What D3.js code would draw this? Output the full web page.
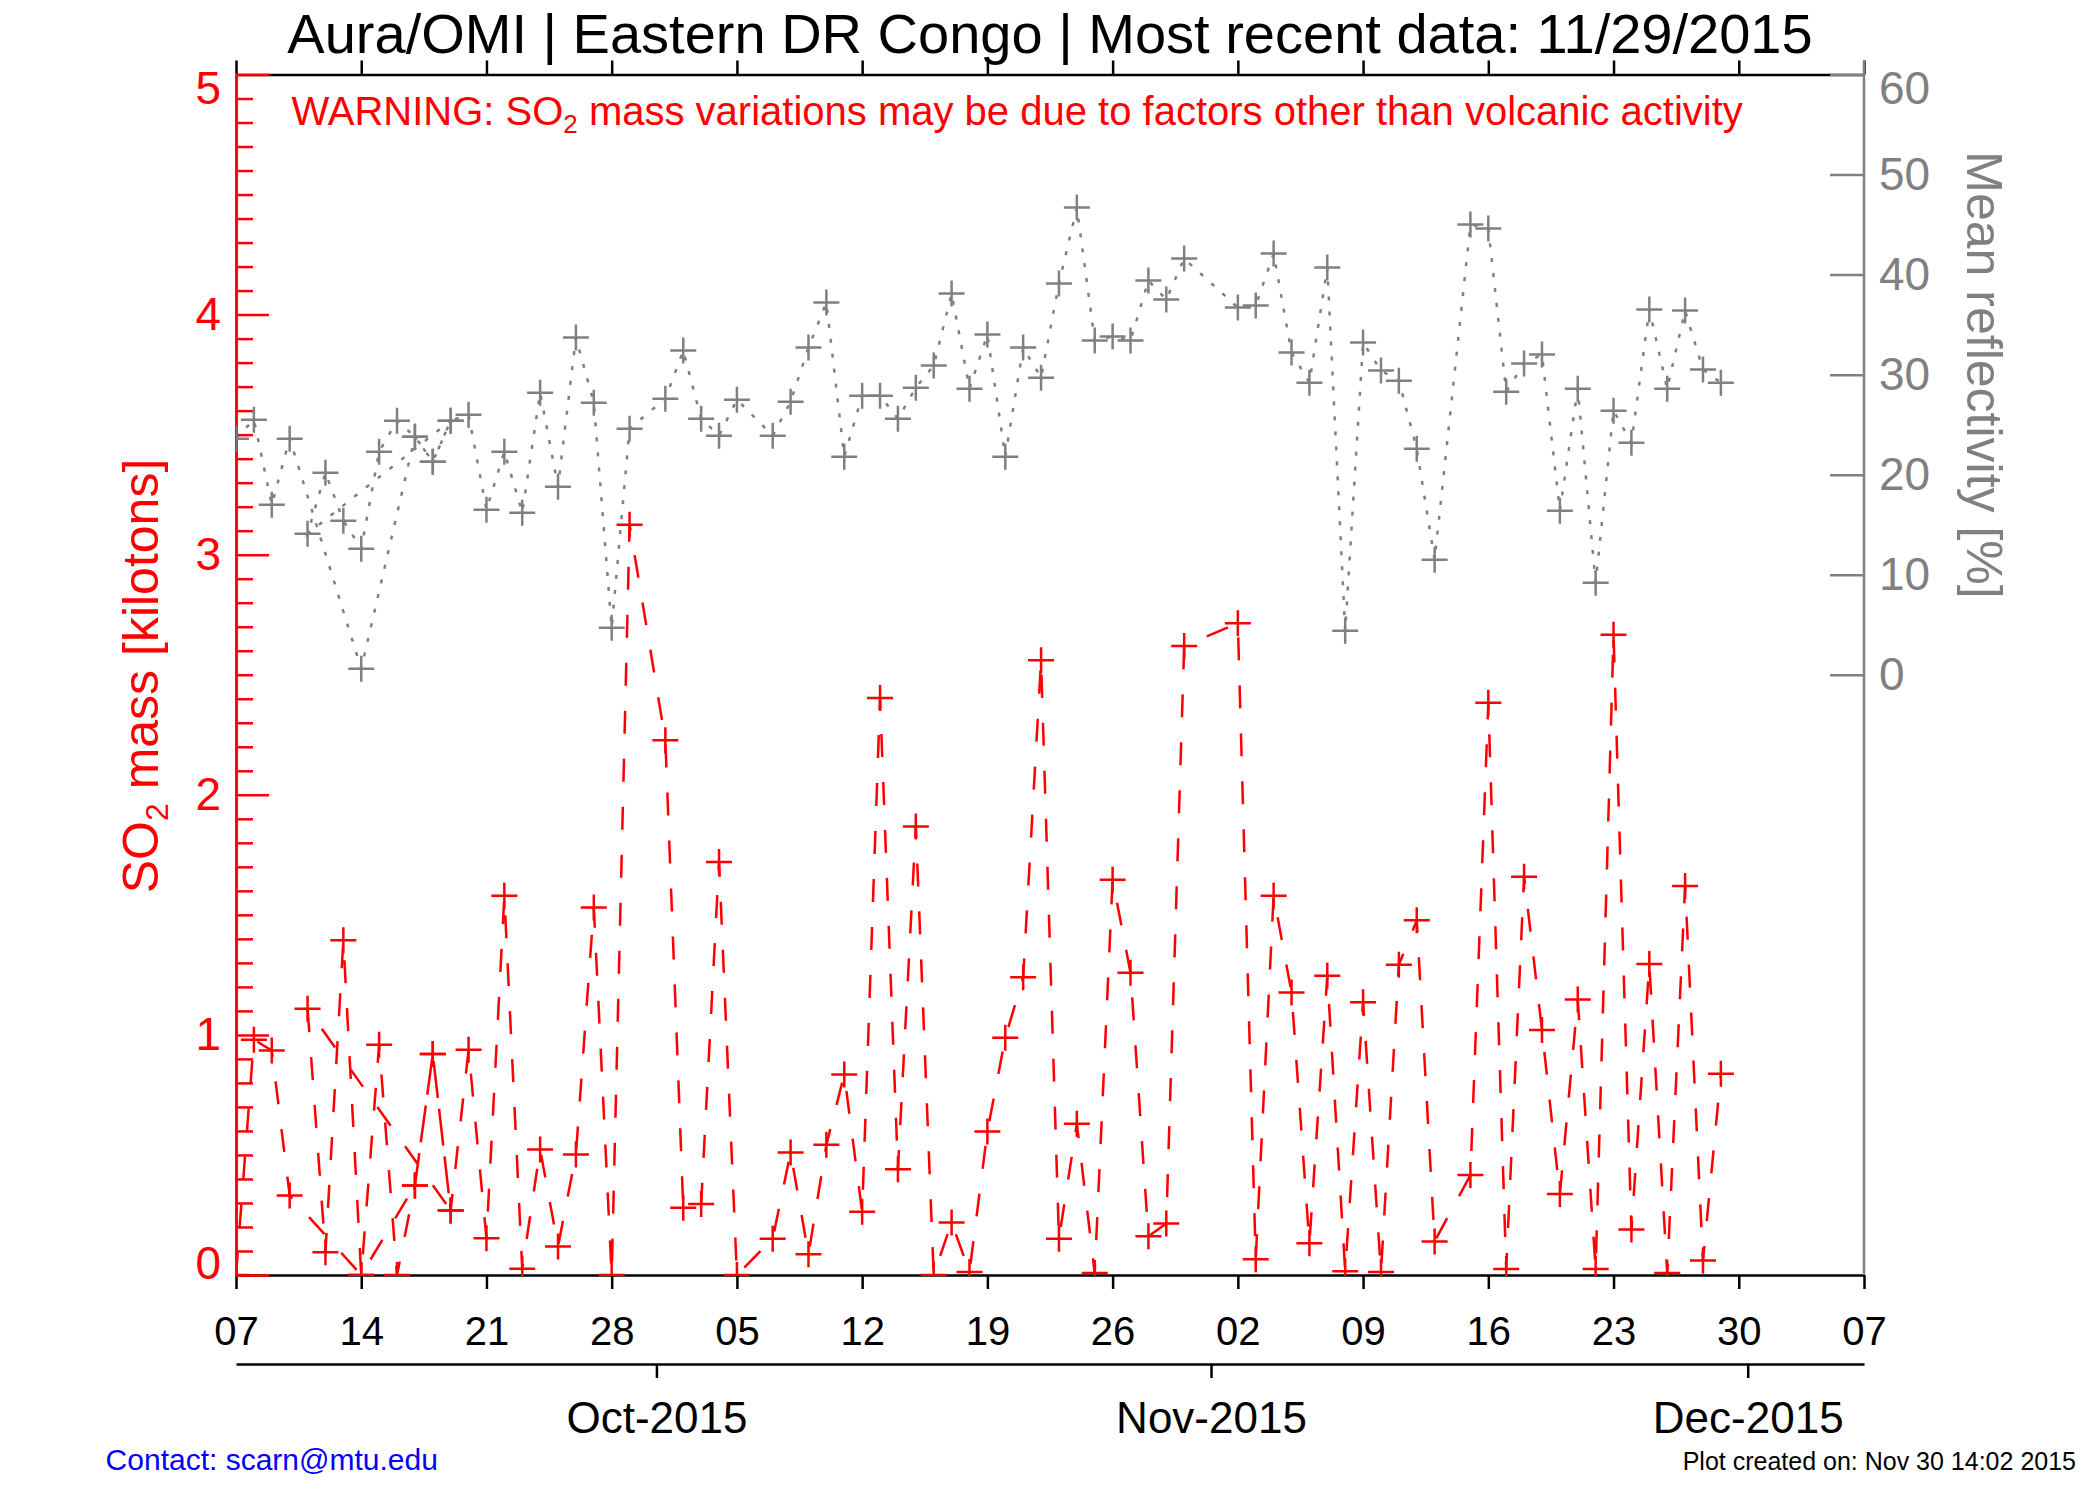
<!DOCTYPE html>
<html>
<head>
<meta charset="utf-8">
<script src="https://cdn.jsdelivr.net/npm/d3@7"></script>
<style>
  body { margin: 0; background: #fff; }
  svg text { font-family: "Liberation Sans", Arial, Helvetica, sans-serif; }
</style>
</head>
<body>
<div id="chart"></div>
<script>
// observations in file order (the Sep 17-19 rows appear twice in the source list)
const obsDates = [
  "2015-09-07","2015-09-08","2015-09-09","2015-09-10","2015-09-14","2015-09-17","2015-09-18","2015-09-19",
  "2015-09-11","2015-09-12","2015-09-13","2015-09-14","2015-09-15","2015-09-16","2015-09-17","2015-09-18",
  "2015-09-19","2015-09-20","2015-09-21","2015-09-22","2015-09-23","2015-09-24","2015-09-25","2015-09-26",
  "2015-09-27","2015-09-28","2015-09-29","2015-10-01","2015-10-02","2015-10-03","2015-10-04","2015-10-05",
  "2015-10-07","2015-10-08","2015-10-09","2015-10-10","2015-10-11","2015-10-12","2015-10-13","2015-10-14",
  "2015-10-15","2015-10-16","2015-10-17","2015-10-18","2015-10-19","2015-10-20","2015-10-21","2015-10-22",
  "2015-10-23","2015-10-24","2015-10-25","2015-10-26","2015-10-27","2015-10-28","2015-10-29","2015-10-30",
  "2015-11-02","2015-11-03","2015-11-04","2015-11-05","2015-11-06","2015-11-07","2015-11-08","2015-11-09",
  "2015-11-10","2015-11-11","2015-11-12","2015-11-13","2015-11-15","2015-11-16","2015-11-17","2015-11-18",
  "2015-11-19","2015-11-20","2015-11-21","2015-11-22","2015-11-23","2015-11-24","2015-11-25","2015-11-26",
  "2015-11-27","2015-11-28","2015-11-29"
];
const so2Mass = [
  0.00, 0.98, 0.935, 0.331, 0.00, 0.373, 0.92, 0.269,
  1.109, 0.095, 1.394, 0.00, 0.959, 0.00, 0.373, 0.92,
  0.269, 0.938, 0.153, 1.58, 0.026, 0.523, 0.119, 0.502,
  1.531, 0.00, 3.125, 2.227, 0.28, 0.296, 1.72, 0.00,
  0.151, 0.51, 0.086, 0.543, 0.835, 0.263, 2.403, 0.44,
  1.868, 0.00, 0.219, 0.013, 0.598, 0.988, 1.24, 2.56,
  0.151, 0.63, 0.008, 1.646, 1.259, 0.161, 0.214, 2.62,
  2.715, 0.066, 1.58, 1.177, 0.132, 1.246, 0.016, 1.136,
  0.013, 1.292, 1.477, 0.14, 0.416, 2.383, 0.025, 1.659,
  1.02, 0.337, 1.147, 0.025, 2.667, 0.189, 1.295, 0.008,
  1.62, 0.06, 0.838
];
const reflectivity = [
  23.6, 25.5, 17.0, 23.6, 0.6, 23.8, 21.3, 25.4,
  14.1, 20.2, 15.4, 12.6, 22.3, 25.4, 23.8, 21.3,
  25.4, 26.0, 16.5, 22.3, 16.2, 28.2, 18.8, 33.7,
  27.2, 4.7, 24.6, 27.6, 32.4, 25.6, 23.9, 27.5,
  23.9, 27.3, 32.7, 37.2, 21.8, 27.9, 27.9, 25.6,
  28.7, 30.9, 38.1, 28.6, 34.0, 21.8, 32.7, 29.7,
  39.1, 46.7, 33.4, 33.8, 33.4, 39.4, 37.5, 41.6,
  36.7, 36.9, 42.1, 32.2, 29.2, 40.7, 4.4, 33.2,
  30.4, 29.4, 22.6, 11.5, 45.0, 44.6, 28.3, 31.1,
  32.0, 16.4, 28.6, 9.2, 26.4, 23.2, 36.5, 28.6,
  36.4, 30.5, 29.2
];
const weekTicks = [
  "2015-09-07","2015-09-14","2015-09-21","2015-09-28","2015-10-05","2015-10-12","2015-10-19",
  "2015-10-26","2015-11-02","2015-11-09","2015-11-16","2015-11-23","2015-11-30","2015-12-07"
];
const monthTicks = ["2015-10-01", "2015-11-01", "2015-12-01"];
const so2Ticks = [0, 1, 2, 3, 4, 5];
const reflTicks = [0, 10, 20, 30, 40, 50, 60];

const width = 2100;
const height = 1500;
const margin = { top: 74.5, right: 236, bottom: 225, left: 236 };
const innerWidth = width - margin.left - margin.right;
const innerHeight = 1275 - margin.top;

const fontFamily = '"Liberation Sans", Arial, Helvetica, sans-serif';
const red = "#ff0000";
const gray = "#808080";

const parseDay = d3.utcParse("%Y-%m-%d");
const noon = s => d3.utcHour.offset(parseDay(s), 12);

const data = obsDates.map((d, i) => ({ date: noon(d), so2: so2Mass[i], refl: reflectivity[i] }));

const svg = d3.select("#chart")
    .append("svg")
    .attr("width", width)
    .attr("height", height)
    .style("background", "#fff");

const chart = svg.append("g")
    .attr("transform", `translate(${margin.left}, ${margin.top})`);

const xScale = d3.scaleUtc()
    .domain([noon("2015-09-07"), noon("2015-12-07")])
    .range([0, innerWidth]);

const yLeft = d3.scaleLinear()
    .domain([0, 5])
    .range([innerHeight, 0]);

const yRight = d3.scaleLinear()
    .domain([-60, 60])
    .range([innerHeight, 0]);

// axis text gets explicit size, anchor, colour and pixel offsets
function styleAxis(g, color, size, anchor, dyFn) {
    g.attr("font-family", fontFamily)
        .attr("font-size", size)
        .attr("color", color);
    g.selectAll("path, line").attr("stroke-width", 2.5);
    g.selectAll("text")
        .attr("font-size", size)
        .attr("fill", color)
        .attr("text-anchor", anchor)
        .attr("dy", d => dyFn(d) * size);
}

// top and bottom date axes
chart.append("g")
    .call(d3.axisTop(xScale).tickValues(weekTicks.map(noon)).tickSize(14).tickSizeOuter(0).tickFormat(""))
    .call(styleAxis, "#000", 40, "middle", () => 0);

chart.append("g")
    .attr("transform", `translate(0, ${innerHeight})`)
    .call(d3.axisBottom(xScale).tickValues(weekTicks.map(noon)).tickSize(14).tickSizeOuter(0)
        .tickPadding(27.6).tickFormat(d3.utcFormat("%d")))
    .call(styleAxis, "#000", 40, "middle", () => 0.71);

chart.append("g")
    .attr("transform", `translate(0, ${1364 - margin.top})`)
    .call(d3.axisBottom(xScale).tickValues(monthTicks.map(parseDay)).tickSize(14).tickSizeOuter(0)
        .tickPadding(24).tickFormat(d3.utcFormat("%b-%Y")))
    .call(styleAxis, "#000", 44, "middle", () => 0.71);

// left SO2 axis
const minorTicks = d3.range(1, 50).filter(i => i % 10 !== 0).map(i => i / 10);

chart.append("g")
    .call(d3.axisLeft(yLeft).tickValues(minorTicks).tickSize(-17).tickSizeOuter(0).tickFormat(""))
    .call(styleAxis, red, 46, "end", () => 0.32);

chart.append("g")
    .call(d3.axisLeft(yLeft).tickValues(so2Ticks).tickSize(-33).tickSizeOuter(0).tickPadding(15).tickFormat(d3.format("d")))
    .call(styleAxis, red, 46, "end", d => d === 5 ? 0.63 : d === 0 ? 0.08 : 0.32);

// right reflectivity axis
const rightAxis = chart.append("g")
    .attr("transform", `translate(${innerWidth}, 0)`)
    .call(d3.axisRight(yRight).tickValues(reflTicks).tickSize(-34).tickSizeOuter(0).tickPadding(15).tickFormat(d3.format("d")))
    .call(styleAxis, gray, 46, "start", d => d === 60 ? 0.63 : 0.32);
rightAxis.select(".domain").remove();
rightAxis.append("line")
    .attr("x1", 0).attr("x2", 0)
    .attr("y1", -14).attr("y2", innerHeight)
    .attr("stroke", gray)
    .attr("stroke-width", 2.5);

// data
svg.append("defs").append("clipPath")
    .attr("id", "plot-clip")
    .append("rect")
    .attr("x", 0).attr("y", -2)
    .attr("width", innerWidth)
    .attr("height", innerHeight + 3);

const plot = chart.append("g").attr("clip-path", "url(#plot-clip)");

function plusPath(cx, cy, r) {
    return `M${cx - r},${cy}H${cx + r}M${cx},${cy - r}V${cy + r}`;
}

const reflLine = d3.line()
    .x(d => xScale(d.date))
    .y(d => yRight(d.refl));

plot.append("path")
    .datum(data)
    .attr("d", reflLine)
    .attr("fill", "none")
    .attr("stroke", gray)
    .attr("stroke-width", 2.5)
    .attr("stroke-dasharray", "4,11");

plot.selectAll(".refl-mark")
    .data(data)
    .enter()
    .append("path")
    .attr("class", "refl-mark")
    .attr("d", d => plusPath(xScale(d.date), yRight(d.refl), 13))
    .attr("stroke", gray)
    .attr("stroke-width", 2.5);

const so2Line = d3.line()
    .x(d => xScale(d.date))
    .y(d => yLeft(d.so2));

plot.append("path")
    .datum(data)
    .attr("d", so2Line)
    .attr("fill", "none")
    .attr("stroke", red)
    .attr("stroke-width", 2.5)
    .attr("stroke-dasharray", "23,25");

plot.selectAll(".so2-mark")
    .data(data)
    .enter()
    .append("path")
    .attr("class", "so2-mark")
    .attr("d", d => plusPath(xScale(d.date), yLeft(d.so2), 13))
    .attr("stroke", red)
    .attr("stroke-width", 2.5);

// titles and labels
svg.append("text")
    .attr("x", 1050)
    .attr("y", 53)
    .attr("text-anchor", "middle")
    .attr("font-size", 56)
    .attr("fill", "#000")
    .text("Aura/OMI | Eastern DR Congo | Most recent data: 11/29/2015");

const warning = svg.append("text")
    .attr("x", 291.5)
    .attr("y", 125)
    .attr("font-size", 40)
    .attr("fill", red);
warning.append("tspan").text("WARNING: SO");
warning.append("tspan").attr("font-size", 26).attr("dy", 8).text("2");
warning.append("tspan").attr("dy", -8).text(" mass variations may be due to factors other than volcanic activity");

const yLabel = svg.append("text")
    .attr("transform", "translate(158, 676) rotate(-90)")
    .attr("text-anchor", "middle")
    .attr("font-size", 50)
    .attr("fill", red);
yLabel.append("tspan").text("SO");
yLabel.append("tspan").attr("font-size", 32).attr("dy", 10).text("2");
yLabel.append("tspan").attr("dy", -10).text(" mass [kilotons]");

svg.append("text")
    .attr("transform", "translate(1967, 375) rotate(90)")
    .attr("text-anchor", "middle")
    .attr("font-size", 50)
    .attr("fill", gray)
    .text("Mean reflectivity [%]");

svg.append("text")
    .attr("x", 105.6)
    .attr("y", 1470)
    .attr("font-size", 30)
    .attr("fill", "#0000ff")
    .text("Contact: scarn@mtu.edu");

svg.append("text")
    .attr("x", 2076)
    .attr("y", 1470)
    .attr("text-anchor", "end")
    .attr("font-size", 25)
    .attr("fill", "#000")
    .text("Plot created on: Nov 30 14:02 2015");
</script>
</body>
</html>
